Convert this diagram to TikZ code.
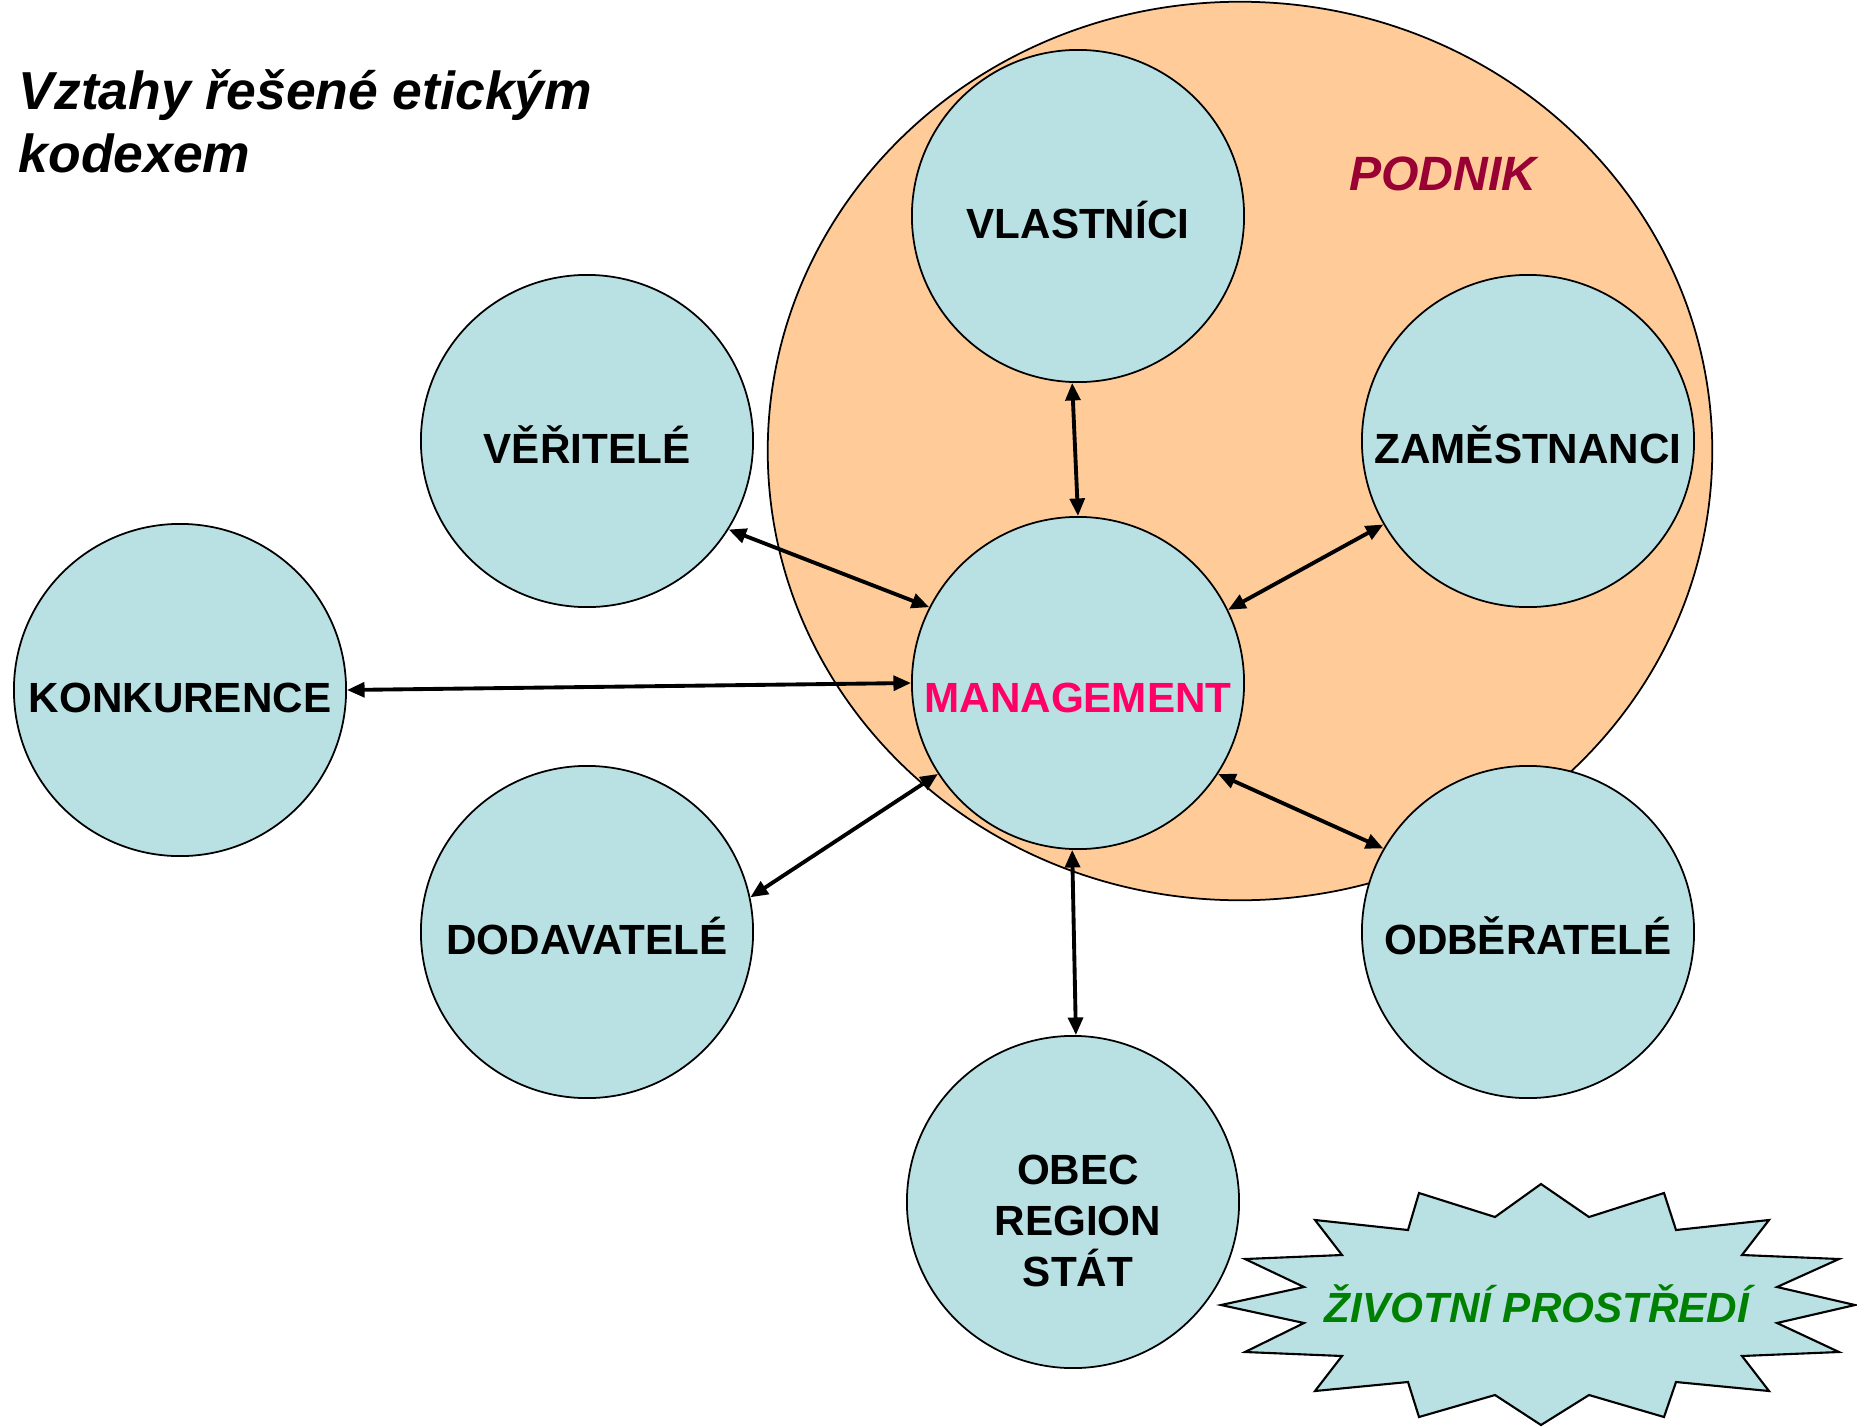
\documentclass[tikz,border=0pt]{standalone}
\usepackage{fontspec}
\setmainfont{Liberation Sans}
\usetikzlibrary{arrows.meta}
\definecolor{partnerblue}{RGB}{185,224,227}
\definecolor{podnikfill}{RGB}{255,204,153}
\definecolor{podnikred}{RGB}{153,0,51}
\definecolor{mgmtpink}{RGB}{255,0,102}
\definecolor{envgreen}{RGB}{0,128,0}
\begin{document}
\begin{tikzpicture}[x=0.01cm, y=-0.01cm,
        partner/.style={circle, draw, line width=0.5pt, fill=partnerblue, minimum size=3.32cm, inner sep=0pt,
            font=\bfseries\fontsize{12}{14.5}\selectfont, text height=4.4mm, text depth=0pt},
        link/.style={<->, >={Triangle[length=5pt, width=4.2pt]}, line width=1.1pt}]
    \useasboundingbox (0,0) rectangle (1857,1427);
    \node[anchor=north west, inner sep=0pt, align=left, font=\bfseries\itshape\fontsize{15.2}{17.8}\selectfont] (title) at (18,69) {Vztahy řešené etickým\\kodexem};
    % podnik
    \draw[fill=podnikfill, line width=0.5pt] (1240,451) ellipse [x radius=4.72cm, y radius=4.49cm];
    \node[font=\bfseries\itshape\fontsize{13.7}{16}\selectfont, text=podnikred] (podnik) at (1443,174) {PODNIK};
    % partners
    \node[partner] (vla) at (1078,216) {VLASTNÍCI};
    \node[partner] (ver) at (587,441) {VĚŘITELÉ};
    \node[partner] (zam) at (1528,441) {ZAMĚSTNANCI};
    \node[partner] (kon) at (180,690) {KONKURENCE};
    \node[partner, text=mgmtpink, text height=5.8mm] (man) at (1078,683) {MANAGEMENT};
    \node[partner] (dod) at (587,932) {DODAVATELÉ};
    \node[partner] (odb) at (1528,932) {ODBĚRATELÉ};
    \node[partner] (obec) at (1073,1202) {};
    \node[align=center, font=\bfseries\fontsize{12}{14.5}\selectfont] (obectext) at (1078,1221) {OBEC\\REGION\\STÁT};
    % zivotni prostredi
    \draw[fill=partnerblue, line width=0.6pt] (1541,1184) -- (1589,1217) -- (1664,1193) -- (1676,1230)
        -- (1769,1220) -- (1742,1255) -- (1839,1259) -- (1777,1287) -- (1855,1305) -- (1777,1323)
        -- (1839,1352) -- (1742,1356) -- (1769,1391) -- (1676,1382) -- (1664,1417) -- (1589,1395)
        -- (1541,1425) -- (1495,1395) -- (1419,1417) -- (1408,1382) -- (1315,1391) -- (1342,1356)
        -- (1245,1352) -- (1304,1323) -- (1221,1305) -- (1304,1287) -- (1245,1259) -- (1342,1255)
        -- (1315,1220) -- (1408,1230) -- (1419,1193) -- (1495,1217) -- cycle;
    \node[font=\bfseries\itshape\fontsize{12}{14.5}\selectfont, text=envgreen] (env) at (1537,1304) {ŽIVOTNÍ PROSTŘEDÍ};
    % vztahy
    \draw[link] (vla.268) -- (man.90);
    \draw[link] (ver.328) -- (man.153);
    \draw[link] (zam.210) -- (man.26);
    \draw[link] (kon.0) -- (man.180);
    \draw[link] (dod.12) -- (man.213);
    \draw[link] (odb.150) -- (man.-33);
    \draw[link] (obec.89) -- (man.268);
\end{tikzpicture}
\end{document}
